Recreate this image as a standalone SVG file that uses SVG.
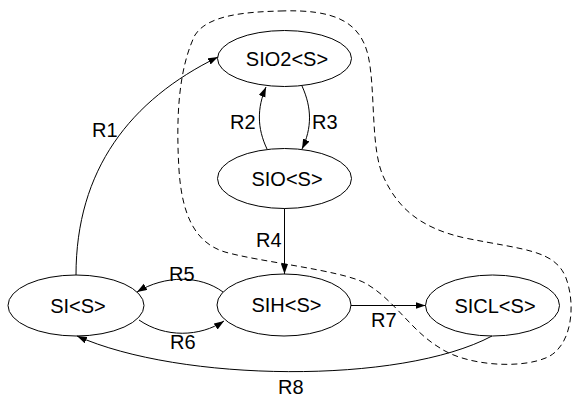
<svg xmlns="http://www.w3.org/2000/svg" width="573" height="398" viewBox="0 0 573 398">
  <style>
    .node ellipse { fill: none; stroke: #000; stroke-width: 1; }
    .node text, .label { font-family: "Liberation Sans", Arial, sans-serif; font-size: 20px; fill: #000; }
    .node text { text-anchor: middle; }
    .edge { fill: none; stroke: #000; stroke-width: 1; marker-end: url(#arrow); }
    .cluster { fill: none; stroke: #000; stroke-width: 1; stroke-dasharray: 6 4; }
  </style>
  <defs>
    <marker id="arrow" markerUnits="userSpaceOnUse" markerWidth="11" markerHeight="8" refX="10" refY="3.5" orient="auto">
      <path d="M0,0 L10,3.5 L0,7 Z" fill="#000"/>
    </marker>
  </defs>

  <rect width="573" height="398" fill="#fff"/>

  <!-- dashed grouping outline -->
  <path class="cluster" d="M280,11 C335,9 360,22 368,55 C376,90 370,150 384,178 C398,208 420,228 465,238 C525,250 555,250 566,278 C576,305 572,345 548,357 C520,370 465,365 440,348 C410,330 395,300 365,283 C340,270 260,262 225,252 C195,243 182,215 179,170 C176,120 178,70 195,35 C208,15 245,12 280,11 Z"/>

  <!-- connectors -->
  <g id="edges">
    <path class="edge" d="M76,275 C76,170 130,100 218,57"/>
    <path class="edge" d="M267,149 C257,128 257,108 266,87"/>
    <path class="edge" d="M302,86 C312,108 312,128 302,149"/>
    <path class="edge" d="M284.5,208.5 L284.5,274"/>
    <path class="edge" d="M223,292 C200,275 165,275 137,292"/>
    <path class="edge" d="M139,320 C165,338 200,337 224,321"/>
    <path class="edge" d="M351,305.5 L425.5,305.5"/>
    <path class="edge" d="M492,336 C400,385 180,382 77,336"/>
    <text class="label" x="92" y="137">R1</text>
    <text class="label" x="230" y="129">R2</text>
    <text class="label" x="312" y="129">R3</text>
    <text class="label" x="256" y="247">R4</text>
    <text class="label" x="169" y="281">R5</text>
    <text class="label" x="170" y="349">R6</text>
    <text class="label" x="371" y="327">R7</text>
    <text class="label" x="278" y="394">R8</text>
  </g>

  <g id="SIO2" class="node">
    <ellipse cx="284.5" cy="58.5" rx="67" ry="28"/>
    <text x="287" y="65.5">SIO2&lt;S&gt;</text>
  </g>
  <g id="SIO" class="node">
    <ellipse cx="284.5" cy="178.5" rx="67" ry="30"/>
    <text x="287" y="185.5">SIO&lt;S&gt;</text>
  </g>
  <g id="SI" class="node">
    <ellipse cx="76" cy="305.5" rx="68" ry="30.5"/>
    <text x="78" y="312.5">SI&lt;S&gt;</text>
  </g>
  <g id="SIH" class="node">
    <ellipse cx="284" cy="305" rx="67" ry="31"/>
    <text x="286.5" y="312">SIH&lt;S&gt;</text>
  </g>
  <g id="SICL" class="node">
    <ellipse cx="492.5" cy="305.5" rx="67" ry="30.5"/>
    <text x="495" y="312.5">SICL&lt;S&gt;</text>
  </g>
</svg>
